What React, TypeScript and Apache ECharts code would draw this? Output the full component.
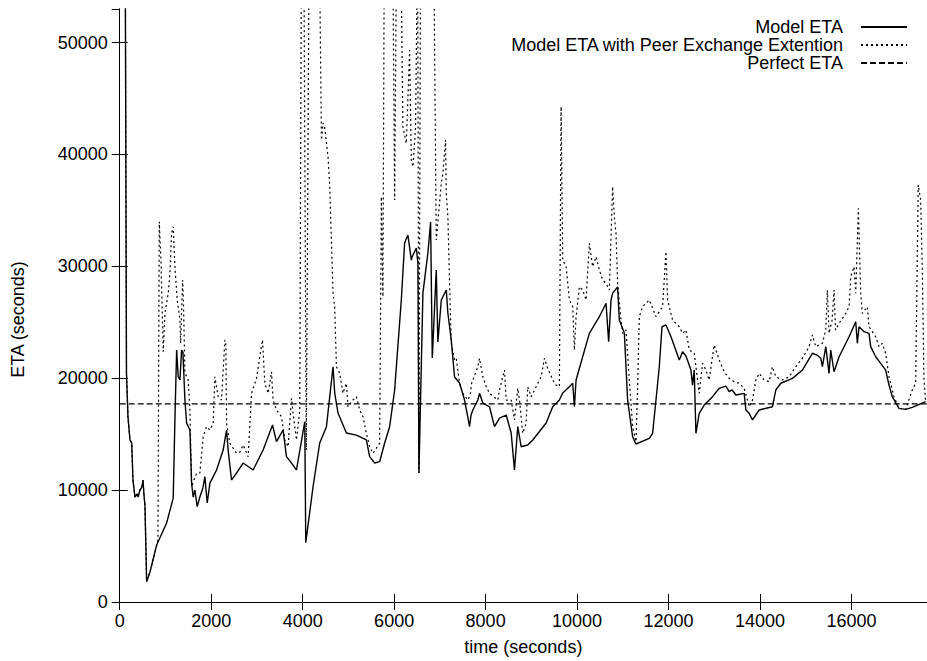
import React, { useEffect, useRef } from "react";
import * as echarts from "echarts";

// ---- data (time in seconds, ETA in seconds) ----
const modelTime = [
  120, 148, 181, 225, 262, 290, 334, 378, 400, 443, 487, 509, 531, 552, 589, 662, 808, 1026, 1170,
  1207, 1245, 1279, 1317, 1354, 1382, 1426, 1463, 1535, 1572, 1607, 1644, 1694, 1753, 1819, 1862,
  1913, 1972, 2118, 2262, 2336, 2371, 2445, 2555, 2699, 2917, 3135, 3341, 3428, 3572, 3646, 3756,
  3865, 4046, 4068, 4227, 4373, 4520, 4664, 4701, 4773, 4956, 5175, 5393, 5465, 5574, 5683, 5793,
  5902, 6011, 6157, 6229, 6301, 6376, 6392, 6485, 6520, 6542, 6629, 6738, 6797, 6834, 6921, 6956,
  7031, 7140, 7175, 7249, 7321, 7430, 7539, 7611, 7648, 7681, 7721, 7830, 7867, 7939, 8085, 8194,
  8303, 8450, 8559, 8631, 8703, 8777, 8921, 9031, 9323, 9467, 9613, 9686, 9832, 9904, 9941, 9978,
  10122, 10268, 10487, 10633, 10690, 10742, 10777, 10886, 10923, 11033, 11105, 11214, 11288, 11579,
  11651, 11725, 11797, 11856, 11943, 12053, 12234, 12306, 12380, 12489, 12524, 12561, 12598, 12670,
  12779, 12961, 13107, 13253, 13325, 13390, 13472, 13653, 13690, 13762, 13835, 13981, 14271, 14345,
  14454, 14708, 14926, 15144, 15246, 15328, 15363, 15437, 15509, 15545, 15618, 15728, 15946, 16092,
  16127, 16164, 16273, 16382, 16419, 16528, 16637, 16747, 16819, 16891, 17037, 17184, 17328, 17620,
];
const modelEta = [
  60000, 20470, 16530, 14480, 14210, 10900, 9380, 9650, 9380, 10010, 10280, 10900, 9560, 8670, 1815,
  2680, 5090, 7060, 9290, 16270, 22520, 20130, 19840, 22520, 22340, 18050, 16000, 15370, 10630, 9380,
  10010, 8520, 9380, 10190, 11200, 8850, 10630, 11800, 13580, 15370, 13580, 10900, 11530, 12420,
  11800, 13580, 15820, 14330, 15370, 12990, 12420, 11800, 16110, 5300, 10300, 14210, 15670, 21030,
  18680, 16890, 15100, 14920, 14480, 12990, 12420, 12540, 14210, 15670, 18950, 26990, 32080, 32800,
  30560, 30830, 31640, 30300, 11530, 27610, 31190, 33960, 21800, 29670, 23240, 26990, 27880, 25830,
  23420, 20110, 19570, 18050, 16530, 15670, 16710, 17160, 18050, 18650, 17780, 17450, 15670, 16440,
  16710, 15100, 11800, 15670, 13880, 14030, 14480, 16000, 17450, 18050, 18680, 19240, 19550, 17450,
  19840, 21920, 24010, 25500, 26700, 23260, 26990, 27610, 28150, 25200, 24040, 18050, 14770, 14120,
  14630, 15080, 18050, 21030, 24600, 24760, 23710, 21630, 22370, 21990, 20730, 19390, 20730, 15080,
  16860, 17600, 18350, 19100, 19300, 18800, 18950, 18500, 18650, 17160, 16860, 16270, 17160, 17450,
  18950, 19550, 19990, 20730, 22230, 22070, 21780, 21030, 22820, 20440, 22520, 20580, 21920, 23710,
  25050, 23120, 24600, 24160, 24010, 22820, 21920, 21330, 20730, 19390, 18350, 17310, 17220, 17400,
  17900,
];

const peerTime = [
  120, 148, 181, 225, 262, 290, 334, 378, 400, 443, 487, 509, 531, 552, 589, 662, 808, 836, 865, 902,
  952, 989, 1061, 1098, 1135, 1170, 1207, 1258, 1317, 1332, 1376, 1393, 1426, 1498, 1535, 1572, 1607,
  1681, 1753, 1825, 1900, 1972, 2044, 2081, 2153, 2227, 2299, 2321, 2336, 2408, 2555, 2627, 2699,
  2808, 2882, 2991, 3063, 3122, 3173, 3245, 3319, 3354, 3428, 3537, 3609, 3681, 3756, 3790, 3865,
  3937, 3974, 4024, 4079, 4144, 4362, 4411, 4446, 4483, 4555, 4592, 4664, 4701, 4738, 4810, 4882,
  4956, 4991, 5100, 5175, 5247, 5319, 5393, 5465, 5537, 5683, 5721, 5755, 5786, 5967, 6011, 6055,
  6142, 6192, 6266, 6338, 6376, 6411, 6469, 6513, 6542, 6579, 6862, 6921, 7031, 7066, 7124, 7140,
  7175, 7212, 7249, 7321, 7358, 7430, 7502, 7611, 7663, 7694, 7830, 7867, 7939, 8013, 8085, 8267,
  8303, 8413, 8450, 8559, 8631, 8703, 8740, 8812, 8886, 8921, 8996, 9105, 9214, 9286, 9358, 9467,
  9541, 9613, 9650, 9686, 9760, 9832, 9904, 9941, 9978, 10050, 10122, 10196, 10268, 10340, 10415,
  10487, 10559, 10633, 10705, 10777, 10814, 10851, 10886, 10961, 10996, 11070, 11142, 11214, 11288,
  11327, 11360, 11432, 11506, 11579, 11725, 11869, 11943, 11979, 12088, 12234, 12306, 12380, 12452,
  12561, 12598, 12670, 12742, 12816, 12887, 12997, 13107, 13216, 13325, 13434, 13543, 13653, 13725,
  13762, 13835, 13908, 13981, 14090, 14199, 14271, 14345, 14489, 14635, 14781, 14926, 15072, 15144,
  15217, 15290, 15363, 15437, 15472, 15509, 15575, 15618, 15650, 15728, 15874, 15946, 15983, 16055,
  16092, 16149, 16201, 16236, 16345, 16382, 16528, 16601, 16673, 16747, 16819, 16928, 17037, 17184,
  17328, 17402, 17458, 17511, 17546, 17583, 17620,
];
const peerEta = [
  60000, 20470, 16530, 14480, 14210, 10900, 9380, 9650, 9380, 10010, 10280, 10900, 9560, 8670, 1815,
  2680, 5090, 5540, 33990, 30560, 22370, 25800, 27590, 29370, 32950, 33540, 29970, 26990, 25200,
  23150, 28780, 26990, 20470, 19840, 17160, 10300, 10720, 11500, 11530, 14770, 15670, 15370, 15970,
  20130, 18350, 18050, 23420, 22970, 15970, 14180, 13290, 13400, 14030, 12990, 18650, 19990, 21920,
  23420, 19550, 18650, 20580, 18050, 17160, 16560, 14480, 13880, 18200, 16860, 14480, 17160, 60000,
  60000, 13580, 60000, 60000, 41290, 42810, 42360, 39800, 37120, 27610, 26390, 21030, 20440, 18650,
  19550, 17450, 18050, 18350, 17160, 16560, 15080, 13880, 13290, 14180, 36220, 27290, 60000, 60000,
  35930, 60000, 60000, 42480, 40990, 49330, 39500, 38900, 42480, 60000, 11530, 60000, 60000, 32350,
  37420, 38320, 41290, 36530, 34430, 28480, 23120, 21630, 21780, 19550, 18650, 18050, 18500, 19550,
  21030, 21780, 20130, 19240, 18650, 18050, 18950, 20730, 18050, 18050, 16270, 19100, 18050, 15080,
  15970, 19240, 18350, 19240, 20130, 21780, 20880, 19840, 19390, 19240, 44270, 30560, 29970, 26990,
  26390, 22520, 25500, 28180, 27880, 26990, 32060, 29970, 30860, 29670, 28780, 28480, 27880, 37120,
  34430, 32950, 28480, 25200, 24010, 24310, 19840, 15670, 14330, 19840, 25500, 26390, 26700, 26990,
  25500, 26390, 31310, 26990, 25200, 24600, 24010, 24310, 22520, 22230, 21030, 18650, 21330, 20730,
  19840, 22970, 21630, 20580, 19990, 19690, 19550, 19100, 18050, 17450, 18050, 19840, 20440, 19840,
  19690, 21030, 20130, 19840, 20130, 21030, 21780, 22820, 23860, 22820, 22970, 23120, 24310, 27880,
  24010, 25200, 27880, 24310, 24900, 25800, 26390, 29070, 29970, 27590, 35180, 27590, 25800, 26390,
  24600, 23710, 22820, 23120, 22230, 20130, 18350, 17310, 17220, 18950, 19550, 37270, 35930, 29970,
  19990, 17900,
];

const perfectTime = [0, 17650];
const perfectEta = [17700, 17700];

const xTicks = { min: 0, max: 17650, interval: 2000 };
const yTicks = { min: 0, max: 53000, interval: 10000 };

const seriesNames = [
  "Model ETA",
  "Model ETA with Peer Exchange Extention",
  "Perfect ETA",
];

const zip = (a: number[], b: number[]) => a.map((t, i) => [t, b[i]]);

const FONT = "Liberation Sans, Arial, Helvetica, sans-serif";

export default function App() {
  const ref = useRef<HTMLDivElement>(null);
  useEffect(() => {
    if (!ref.current) return;
    const chart = echarts.init(ref.current, null, { renderer: "svg" });
    const axisLine = { show: true, lineStyle: { color: "#000", width: 1 } };
    const tick = { show: true, inside: true, length: 8, lineStyle: { color: "#000", width: 1 } };
    const label = { color: "#000", fontSize: 18, fontFamily: FONT };
    const legendBase = {
      orient: "horizontal",
      align: "right",
      right: 19,
      itemWidth: 46,
      itemHeight: 16,
      padding: 0,
      selectedMode: false,
      itemStyle: { opacity: 0 },
      textStyle: {
        color: "#000",
        fontSize: 18,
        lineHeight: 16,
        fontFamily: FONT,
        padding: [0, 13, 0, 0],
      },
    };
    chart.setOption({
      animation: false,
      backgroundColor: "#fff",
      textStyle: { fontFamily: FONT },
      grid: { left: 119.7, right: -1, top: 9, bottom: 59, containLabel: false },
      legend: [
        { ...legendBase, top: 18, data: [seriesNames[0]] },
        { ...legendBase, top: 36, data: [seriesNames[1]] },
        { ...legendBase, top: 54, data: [seriesNames[2]] },
      ],
      xAxis: [
        {
          type: "value",
          ...xTicks,
          position: "bottom",
          name: "time (seconds)",
          nameLocation: "middle",
          nameGap: 36,
          nameTextStyle: { ...label },
          axisLine,
          axisTick: tick,
          axisLabel: { ...label, margin: 10, showMaxLabel: false, formatter: (v: number) => String(v) },
          splitLine: { show: false },
        },
        {
          type: "value",
          ...xTicks,
          position: "top",
          axisLine,
          axisTick: tick,
          axisLabel: { show: false },
          splitLine: { show: false },
        },
      ],
      yAxis: [
        {
          type: "value",
          ...yTicks,
          position: "left",
          name: "ETA (seconds)",
          nameLocation: "middle",
          nameGap: 93,
          nameTextStyle: { ...label, padding: [0, 28, 0, 0] },
          axisLine,
          axisTick: tick,
          axisLabel: { ...label, margin: 12, showMaxLabel: false, formatter: (v: number) => String(v) },
          splitLine: { show: false },
        },
        {
          type: "value",
          ...yTicks,
          position: "right",
          axisLine,
          axisTick: tick,
          axisLabel: { show: false },
          splitLine: { show: false },
        },
      ],
      series: [
        {
          name: seriesNames[0],
          type: "line",
          data: zip(modelTime, modelEta),
          symbol: "none",
          clip: true,
          lineStyle: { color: "#000", width: 1.4, type: "solid" },
          itemStyle: { color: "#000" },
          z: 3,
        },
        {
          name: seriesNames[1],
          type: "line",
          data: zip(peerTime, peerEta),
          symbol: "none",
          clip: true,
          lineStyle: { color: "#000", width: 1.2, type: [2, 3] },
          itemStyle: { color: "#000" },
          z: 2,
        },
        {
          name: seriesNames[2],
          type: "line",
          data: zip(perfectTime, perfectEta),
          symbol: "none",
          clip: true,
          lineStyle: { color: "#000", width: 1.2, type: [6, 3] },
          itemStyle: { color: "#000" },
          z: 1,
        },
      ],
    });
    return () => chart.dispose();
  }, []);
  return (
    <div
      ref={ref}
      style={{ position: "absolute", left: 0, top: 0, width: 927, height: 661, background: "#fff" }}
    />
  );
}
